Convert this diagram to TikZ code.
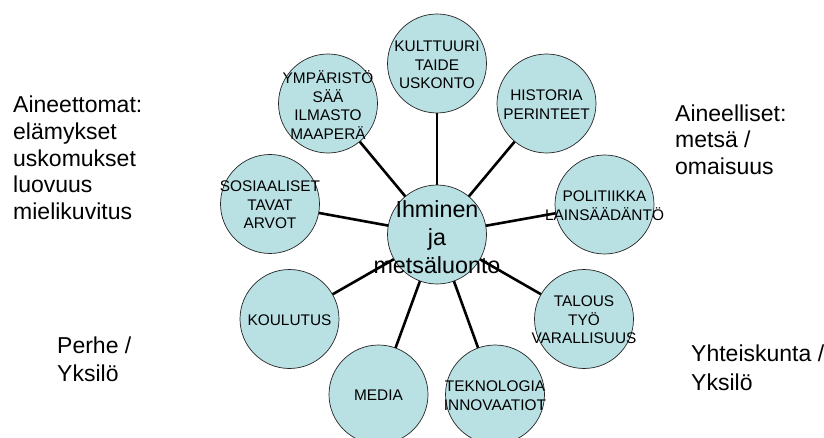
\documentclass[tikz,border=0pt]{standalone}
\usepackage{fontspec}
\setmainfont{Liberation Sans}
\usetikzlibrary{backgrounds}
\definecolor{cfill}{RGB}{185,224,227}
\begin{document}
\begin{tikzpicture}[x=1pt,y=-1pt,
  bub/.style={circle, fill=cfill, draw=black!85, line width=0.7pt, minimum size=99pt, inner sep=0pt},
  btxt/.style={align=center, inner sep=0pt, font=\fontsize{15.4}{18.5}\selectfont},
  ctxt/.style={align=center, inner sep=0pt, font=\fontsize{23.3}{28}\selectfont},
  link/.style={line width=2.6pt},
  side/.style={align=left, anchor=base west, inner sep=0pt, font=\fontsize{23}{26.6}\selectfont},
  sideb/.style={side, font=\fontsize{23}{28.3}\selectfont}]
\useasboundingbox (0,0) rectangle (824,438);
\node[bub] (c)  at (437,234.5) {};
\node[bub] (k)  at (437,63.5) {};
\node[bub] (h)  at (546.5,103.5) {};
\node[bub] (y)  at (328,103.5) {};
\node[bub] (s)  at (270,204) {};
\node[bub] (p)  at (604.5,204.5) {};
\node[bub] (ko) at (289.5,319) {};
\node[bub] (t)  at (584,319) {};
\node[bub] (m)  at (378.5,394.5) {};
\node[bub] (te) at (495,394.5) {};
\begin{scope}[on background layer]
  \foreach \n in {k,h,y,s,p,ko,t,m,te} \draw[link] (c.center) -- (\n.center);
\end{scope}
\node[ctxt] (ct) at ([yshift=-2.5pt]c.center) {Ihminen\\ja\\metsäluonto};
\node[btxt] (kt) at ([yshift=-1.5pt]k.center) {KULTTUURI\\TAIDE\\USKONTO};
\node[btxt] (ht) at ([yshift=-1pt]h.center) {HISTORIA\\PERINTEET};
\node[btxt] (yt) at ([yshift=-1.5pt]y.center) {YMPÄRISTÖ\\SÄÄ\\ILMASTO\\MAAPERÄ};
\node[btxt] (st) at ([yshift=-1pt]s.center) {SOSIAALISET\\TAVAT\\ARVOT};
\node[btxt] (pt) at ([yshift=-1pt]p.center) {POLITIIKKA\\LAINSÄÄDÄNTÖ};
\node[btxt] (kot) at ([yshift=-1pt]ko.center) {KOULUTUS};
\node[btxt] (tt) at ([yshift=-1pt]t.center) {TALOUS\\TYÖ\\VARALLISUUS};
\node[btxt] (mt) at ([yshift=-1pt]m.center) {MEDIA};
\node[btxt] (tet) at ([yshift=-1pt]te.center) {TEKNOLOGIA\\INNOVAATIOT};
\node[side] (l1) at (13,219.4) {Aineettomat:\\elämykset\\uskomukset\\luovuus\\mielikuvitus};
\node[side] (r1) at (675,174.6) {Aineelliset:\\metsä /\\omaisuus};
\node[sideb] (l2) at (57,381.5) {Perhe /\\Yksilö};
\node[sideb] (r2) at (691,390) {Yhteiskunta /\\Yksilö};
\end{tikzpicture}
\end{document}
